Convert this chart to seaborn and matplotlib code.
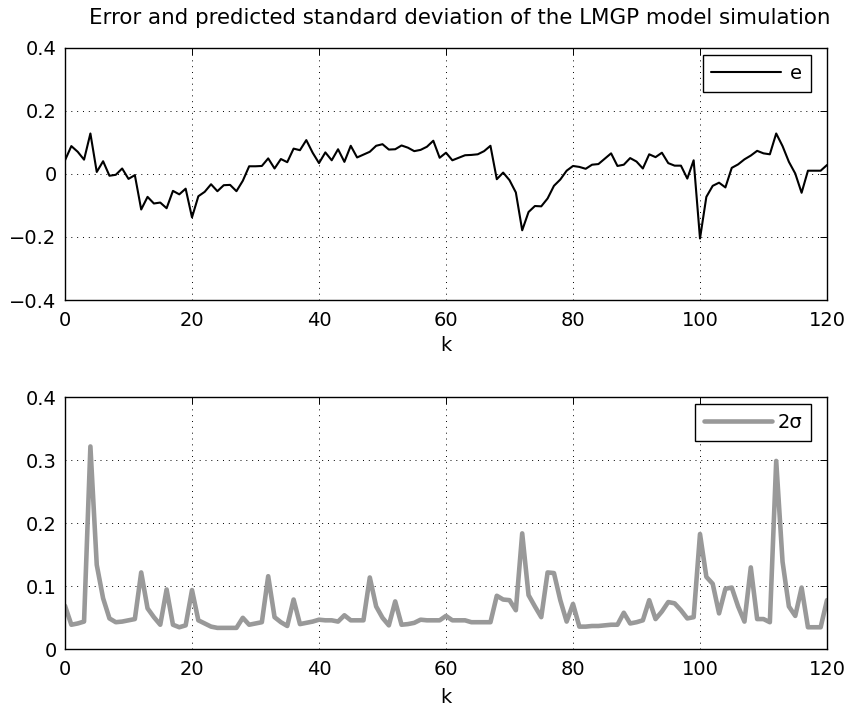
import numpy as np
import pandas as pd
import matplotlib
matplotlib.use("Agg")
import matplotlib.pyplot as plt
import seaborn as sns

k = list(range(121))

e = [0.043, 0.088, 0.070, 0.045, 0.128, 0.006, 0.040, -0.006, -0.003, 0.017,
     -0.016, -0.004, -0.113, -0.073, -0.094, -0.091, -0.109, -0.054, -0.065, -0.047,
     -0.138, -0.071, -0.057, -0.033, -0.055, -0.036, -0.035, -0.055, -0.022, 0.024,
     0.024, 0.025, 0.049, 0.017, 0.047, 0.037, 0.080, 0.075, 0.107, 0.067,
     0.034, 0.068, 0.043, 0.078, 0.038, 0.089, 0.052, 0.061, 0.070, 0.089,
     0.094, 0.077, 0.078, 0.090, 0.083, 0.072, 0.076, 0.086, 0.105, 0.051,
     0.067, 0.043, 0.051, 0.059, 0.060, 0.062, 0.072, 0.089, -0.017, 0.004,
     -0.020, -0.059, -0.179, -0.121, -0.102, -0.103, -0.078, -0.038, -0.018, 0.010,
     0.025, 0.022, 0.016, 0.029, 0.031, 0.048, 0.065, 0.025, 0.029, 0.050,
     0.039, 0.017, 0.062, 0.053, 0.067, 0.034, 0.026, 0.026, -0.015, 0.043,
     -0.205, -0.073, -0.038, -0.028, -0.043, 0.019, 0.030, 0.046, 0.058, 0.073,
     0.065, 0.062, 0.128, 0.088, 0.038, 0.001, -0.060, 0.010, 0.010, 0.010,
     0.028]

two_sigma = [0.069, 0.039, 0.041, 0.044, 0.322, 0.134, 0.081, 0.049, 0.043, 0.044,
             0.046, 0.048, 0.122, 0.065, 0.051, 0.039, 0.095, 0.039, 0.035, 0.038,
             0.094, 0.046, 0.041, 0.036, 0.034, 0.034, 0.034, 0.034, 0.050, 0.039,
             0.041, 0.043, 0.116, 0.051, 0.043, 0.037, 0.079, 0.040, 0.042, 0.044,
             0.047, 0.046, 0.046, 0.044, 0.054, 0.046, 0.046, 0.046, 0.114, 0.068,
             0.050, 0.038, 0.076, 0.039, 0.040, 0.042, 0.047, 0.046, 0.046, 0.046,
             0.053, 0.046, 0.046, 0.046, 0.043, 0.043, 0.043, 0.043, 0.085, 0.079,
             0.078, 0.062, 0.184, 0.086, 0.068, 0.051, 0.122, 0.121, 0.078, 0.044,
             0.072, 0.036, 0.036, 0.037, 0.037, 0.038, 0.039, 0.039, 0.058, 0.041,
             0.043, 0.046, 0.078, 0.048, 0.060, 0.075, 0.073, 0.062, 0.049, 0.051,
             0.183, 0.115, 0.104, 0.057, 0.096, 0.098, 0.068, 0.044, 0.130, 0.048,
             0.048, 0.043, 0.299, 0.139, 0.068, 0.053, 0.098, 0.035, 0.035, 0.035,
             0.078]

title = "Error and predicted standard deviation of the LMGP model simulation"
top_yticks = [-0.4, -0.2, 0, 0.2, 0.4]
top_yticklabels = ["\u22120.4", "\u22120.2", "0", "0.2", "0.4"]
bot_yticks = [0, 0.1, 0.2, 0.3, 0.4]
bot_yticklabels = ["0", "0.1", "0.2", "0.3", "0.4"]
xticks = [0, 20, 40, 60, 80, 100, 120]

sns.set_style("white")
plt.rcParams['font.family'] = ['DejaVu Sans']
plt.rcParams['text.color'] = 'black'
plt.rcParams['axes.labelcolor'] = 'black'
FS = 14

df = pd.DataFrame({"k": k, "e": e, "s": two_sigma})

fig = plt.figure(figsize=(8.53, 7.13), dpi=100)
ax1 = fig.add_axes([65/853, 1-300/713, 762/853, 252.3/713])
ax2 = fig.add_axes([65/853, 1-649.3/713, 762/853, 252/713])

sns.lineplot(data=df, x="k", y="e", ax=ax1, color="black", linewidth=1.5, label="e")
sns.lineplot(data=df, x="k", y="s", ax=ax2, color=(0.6, 0.6, 0.6), linewidth=3.3, label="2\u03c3")

for ax, yt, ytl, yl, lp in [(ax1, top_yticks, top_yticklabels, (-0.4, 0.4), 4),
                            (ax2, bot_yticks, bot_yticklabels, (0, 0.4), 6)]:
    ax.set_xlim(0, 120)
    ax.set_ylim(*yl)
    ax.set_xticks(xticks)
    ax.set_xticklabels([str(t) for t in xticks])
    ax.set_yticks(yt)
    ax.set_yticklabels(ytl)
    ax.set_xlabel("k", fontsize=FS, labelpad=lp, color="black")
    ax.set_ylabel("")
    ax.grid(True, color="black", linestyle=(0, (1, 5)), linewidth=0.7)
    ax.tick_params(direction="in", length=5, width=0.7, top=True, right=True,
                   labelsize=FS, colors="black")
    ax.tick_params(axis="x", pad=8)
    ax.tick_params(axis="y", pad=6)
    for sp in ax.spines.values():
        sp.set_visible(True)
        sp.set_color("black")
        sp.set_linewidth(1.0)

leg1 = ax1.legend(loc="upper right", bbox_to_anchor=(0.979, 0.971), fontsize=FS,
                  frameon=True, fancybox=False, edgecolor="black", framealpha=1,
                  borderpad=0.45, handlelength=3.6, handletextpad=0.45,
                  borderaxespad=0)
leg2 = ax2.legend(loc="upper right", bbox_to_anchor=(0.979, 0.973), fontsize=FS,
                  frameon=True, fancybox=False, edgecolor="black", framealpha=1,
                  borderpad=0.45, handlelength=3.5, handletextpad=0.3,
                  borderaxespad=0)
for lg in (leg1, leg2):
    lg.get_frame().set_linewidth(1.0)
    for t in lg.get_texts():
        t.set_color("black")

fig.text(460/853, 1 - 18/713, title, ha="center", va="center", fontsize=15.4,
         color="black")

fig.savefig("out.png", dpi=100)
